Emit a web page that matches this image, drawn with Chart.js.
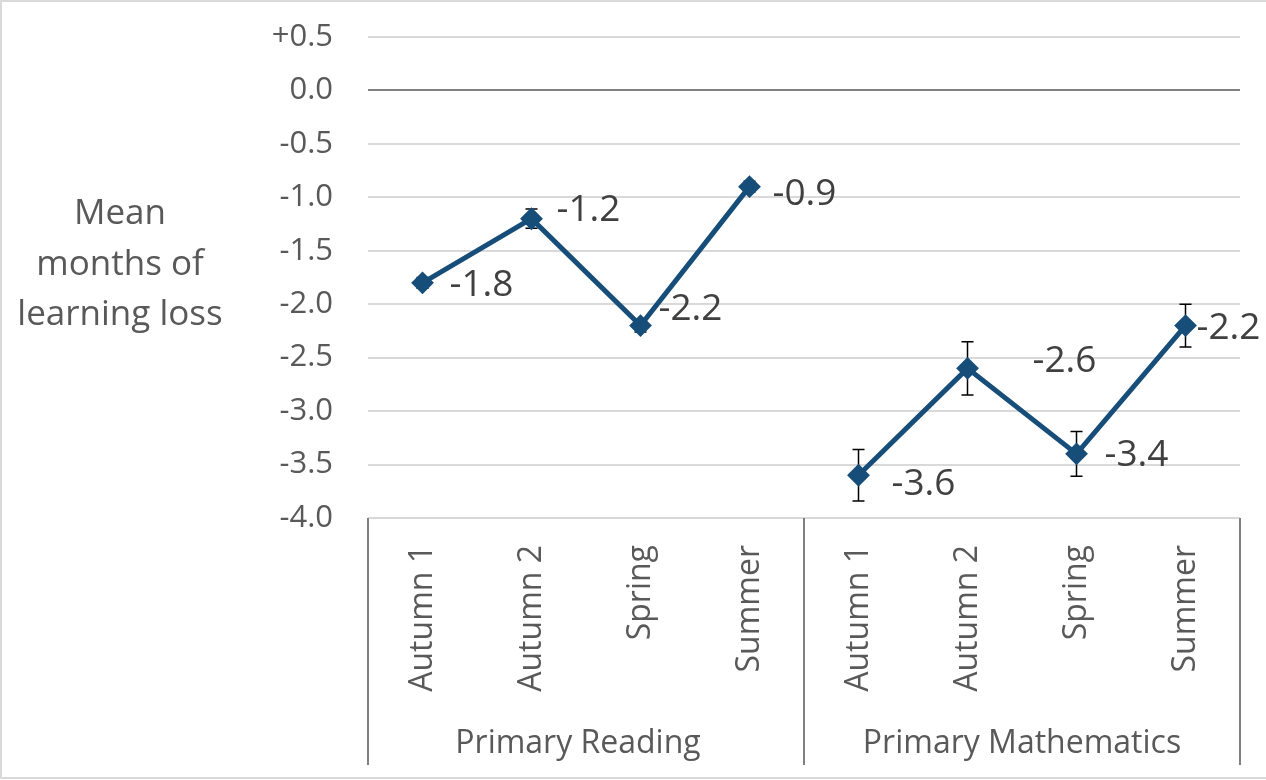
<!DOCTYPE html>
<html>
<head>
<meta charset="utf-8">
<script src="https://cdn.jsdelivr.net/npm/chart.js@4.4.0/dist/chart.umd.min.js"></script>
<style>
  html, body { margin: 0; padding: 0; background: #ffffff; }
  #wrap { width: 1266px; height: 780px; position: relative; }
</style>
</head>
<body>
<div id="wrap"><canvas id="c" width="1266" height="780"></canvas></div>
<script>
// ---- data ----
const categories = ['Autumn 1', 'Autumn 2', 'Spring', 'Summer', 'Autumn 1', 'Autumn 2', 'Spring', 'Summer'];
const groups = ['Primary Reading', 'Primary Mathematics'];
const groupSizes = [4, 4];
const readingValues = [-1.8, -1.2, -2.2, -0.9];
const mathsValues = [-3.6, -2.6, -3.4, -2.2];
const readingErrors = [0.05, 0.09, 0.06, 0.05];
const mathsErrors = [0.24, 0.25, 0.21, 0.20];
const yTicks = [0.5, 0.0, -0.5, -1.0, -1.5, -2.0, -2.5, -3.0, -3.5, -4.0];
const yTitleLines = ['Mean', 'months of', 'learning loss'];

// ---- styling (not data) ----
const FONT = '"Open Sans", "Noto Sans", sans-serif';
const LINE_COLOR = '#174e79';
const TEXT_GRAY = '#595959';
const LABEL_GRAY = '#404040';
// label offsets (px) from each point, reading then maths
const labelOffsets = [[59, 3], [57, -8], [50, -16], [55, 8], [65, 9], [97, -7], [60, 2], [43, 3]];
const groupLabelShift = [-8, 0];

const nulls = n => Array(n).fill(null);
const readingData = readingValues.concat(nulls(groupSizes[1]));
const mathsData = nulls(groupSizes[0]).concat(mathsValues);
const readingErr = readingErrors.concat(nulls(groupSizes[1]));
const mathsErr = nulls(groupSizes[0]).concat(mathsErrors);

const fmt = v => (v > 0 ? '+' : '') + (Math.abs(v) < 1e-9 ? '0.0' : v.toFixed(1));

const customPlugin = {
  id: 'custom',
  beforeDatasetsDraw(chart) {
    const ctx = chart.ctx;
    const x = chart.scales.x, y = chart.scales.y;
    ctx.save();
    ctx.strokeStyle = '#000000';
    ctx.lineWidth = 1.5;
    [[readingData, readingErr], [mathsData, mathsErr]].forEach(([vals, errs]) => {
      vals.forEach((v, i) => {
        if (v === null || errs[i] === null) return;
        const px = x.getPixelForValue(i);
        const top = y.getPixelForValue(v + errs[i]);
        const bot = y.getPixelForValue(v - errs[i]);
        ctx.beginPath();
        ctx.moveTo(px, top); ctx.lineTo(px, bot);
        ctx.moveTo(px - 6, top); ctx.lineTo(px + 6, top);
        ctx.moveTo(px - 6, bot); ctx.lineTo(px + 6, bot);
        ctx.stroke();
      });
    });
    ctx.restore();
  },
  afterDatasetsDraw(chart) {
    const ctx = chart.ctx;
    const x = chart.scales.x, y = chart.scales.y;
    ctx.save();
    ctx.font = '37px ' + FONT;
    ctx.fillStyle = LABEL_GRAY;
    ctx.textAlign = 'center';
    ctx.textBaseline = 'middle';
    [readingData, mathsData].forEach(vals => {
      vals.forEach((v, i) => {
        if (v === null) return;
        const px = x.getPixelForValue(i);
        const py = y.getPixelForValue(v);
        const off = labelOffsets[i];
        ctx.fillText(fmt(v), px + off[0], py + off[1]);
      });
    });
    ctx.restore();
  },
  afterDraw(chart) {
    const ctx = chart.ctx;
    const area = chart.chartArea;
    const x = chart.scales.x;
    ctx.save();
    // y-axis title
    ctx.font = '35px ' + FONT;
    ctx.fillStyle = TEXT_GRAY;
    ctx.textAlign = 'center';
    ctx.textBaseline = 'alphabetic';
    const baselines = [224, 275, 325];
    yTitleLines.forEach((t, i) => ctx.fillText(t, 120, baselines[i]));

    // group labels and separators
    const band = (area.right - area.left) / categories.length;
    ctx.strokeStyle = '#808080';
    ctx.lineWidth = 2;
    let start = 0;
    const edges = [0];
    groups.forEach((g, gi) => {
      const end = start + groupSizes[gi];
      const left = x.getPixelForValue(start) - band / 2;
      const right = x.getPixelForValue(end - 1) + band / 2;
      ctx.font = '32px ' + FONT;
      ctx.fillStyle = TEXT_GRAY;
      ctx.fillText(g, (left + right) / 2 + groupLabelShift[gi], 753);
      edges.push(end);
      start = end;
    });
    edges.forEach(e => {
      const px = e === 0 ? x.getPixelForValue(0) - band / 2 : x.getPixelForValue(e - 1) + band / 2;
      ctx.beginPath();
      ctx.moveTo(px, area.bottom);
      ctx.lineTo(px, 765);
      ctx.stroke();
    });

    // outer border
    ctx.strokeStyle = '#d9d9d9';
    ctx.lineWidth = 2;
    ctx.beginPath();
    ctx.moveTo(1, 779); ctx.lineTo(1, 1); ctx.lineTo(1266, 1);
    ctx.moveTo(1, 778); ctx.lineTo(1266, 778);
    ctx.stroke();
    ctx.restore();
  }
};

new Chart(document.getElementById('c'), {
  type: 'line',
  data: {
    labels: categories,
    datasets: [
      { label: groups[0], data: readingData },
      { label: groups[1], data: mathsData }
    ].map(d => Object.assign(d, {
      borderColor: LINE_COLOR,
      backgroundColor: LINE_COLOR,
      borderWidth: 5,
      pointStyle: 'rectRot',
      pointRadius: 10,
      pointBorderWidth: 2,
      pointBackgroundColor: LINE_COLOR,
      pointBorderColor: LINE_COLOR,
      tension: 0,
      spanGaps: false
    }))
  },
  options: {
    responsive: false,
    animation: false,
    devicePixelRatio: 1,
    layout: { padding: { top: 37, right: 26, left: 0, bottom: 0 } },
    plugins: { legend: { display: false }, tooltip: { enabled: false } },
    scales: {
      x: {
        type: 'category',
        offset: true,
        grid: { display: false, drawTicks: false },
        border: { display: false },
        ticks: {
          autoSkip: false,
          minRotation: 90,
          maxRotation: 90,
          padding: 27,
          color: TEXT_GRAY,
          font: { family: FONT, size: 32 }
        },
        afterFit: s => { s.height = 262; }
      },
      y: {
        min: -4,
        max: 0.5,
        afterBuildTicks: s => { s.ticks = yTicks.map(v => ({ value: v })); },
        grid: {
          drawTicks: true,
          tickLength: 35,
          tickColor: 'rgba(0,0,0,0)',
          lineWidth: 2,
          color: c => (c.tick && Math.abs(c.tick.value) < 1e-9 ? '#808080' : '#d9d9d9')
        },
        border: { display: false },
        ticks: {
          padding: 0,
          color: TEXT_GRAY,
          font: { family: FONT, size: 31 },
          callback: v => fmt(v)
        },
        afterFit: s => { s.width = 368; }
      }
    }
  },
  plugins: [customPlugin]
});
</script>
</body>
</html>
